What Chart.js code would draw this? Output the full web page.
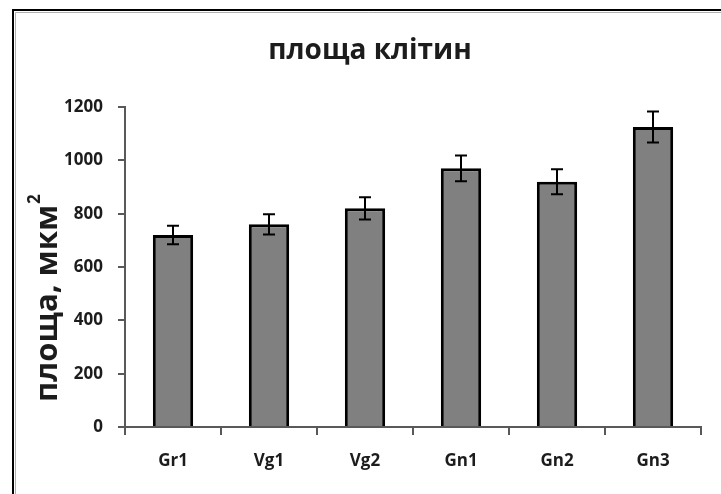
<!DOCTYPE html>
<html>
<head>
<meta charset="utf-8">
<script src="https://cdn.jsdelivr.net/npm/chart.js@4.4.1/dist/chart.umd.min.js"></script>
<style>
  html, body { margin: 0; padding: 0; background: #fff; }
  #wrap { width: 721px; height: 494px; position: relative; }
</style>
</head>
<body>
<div id="wrap"><canvas id="c" width="721" height="494"></canvas></div>
<script>
// Cell area by group: mean and error
const categories = ['Gr1', 'Vg1', 'Vg2', 'Gn1', 'Gn2', 'Gn3'];
const areaMeans  = [720, 760, 820, 970, 920, 1125];
const areaErrors = [35, 38, 42, 48, 47, 58];
const yTicks     = [0, 200, 400, 600, 800, 1000, 1200];

const chartTitle = 'площа клітин';
const yTitle     = 'площа, мкм';
const yTitleSup  = '2';

const FONT = '"Open Sans", "DejaVu Sans", sans-serif';
const TEXT = '#1c1c1c';

// White page with the dark frame around the chart
const framePlugin = {
  id: 'frame',
  beforeDraw(chart) {
    const ctx = chart.ctx;
    ctx.save();
    ctx.fillStyle = '#fff';
    ctx.fillRect(0, 0, chart.width, chart.height);
    ctx.strokeStyle = '#b0b0b0';
    ctx.lineWidth = 1;
    ctx.beginPath();
    ctx.moveTo(15.5, chart.height);
    ctx.lineTo(15.5, 12.5);
    ctx.lineTo(chart.width, 12.5);
    ctx.stroke();
    ctx.strokeStyle = '#000';
    ctx.lineWidth = 2;
    ctx.beginPath();
    ctx.moveTo(13, chart.height);
    ctx.lineTo(13, 10);
    ctx.lineTo(chart.width, 10);
    ctx.stroke();
    ctx.restore();
  }
};

// Error whiskers drawn through the value scale
const errorBarPlugin = {
  id: 'errorBars',
  afterDatasetsDraw(chart) {
    const ctx = chart.ctx;
    const meta = chart.getDatasetMeta(0);
    const y = chart.scales.y;
    ctx.save();
    ctx.strokeStyle = '#000';
    ctx.lineWidth = 2;
    meta.data.forEach((bar, i) => {
      const x = Math.round(bar.x);
      const hi = y.getPixelForValue(areaMeans[i] + areaErrors[i]);
      const lo = y.getPixelForValue(areaMeans[i] - areaErrors[i]);
      ctx.beginPath();
      ctx.moveTo(x, hi); ctx.lineTo(x, lo);
      ctx.moveTo(x - 6, hi); ctx.lineTo(x + 6, hi);
      ctx.moveTo(x - 6, lo); ctx.lineTo(x + 6, lo);
      ctx.stroke();
    });
    ctx.restore();
  }
};

// Chart heading and the vertical axis caption with its superscript
const captionPlugin = {
  id: 'captions',
  afterDraw(chart) {
    const ctx = chart.ctx;
    ctx.save();
    ctx.fillStyle = TEXT;
    ctx.font = 'bold 28px ' + FONT;
    ctx.textAlign = 'center';
    ctx.textBaseline = 'alphabetic';
    ctx.fillText(chartTitle, 370, 59);

    ctx.translate(57, 402);
    ctx.rotate(-Math.PI / 2);
    ctx.textAlign = 'left';
    ctx.font = 'bold 31px ' + FONT;
    ctx.fillText(yTitle, 0, 0);
    const w = ctx.measureText(yTitle).width;
    ctx.font = 'bold 17px ' + FONT;
    ctx.fillText(yTitleSup, w + 1, -17);
    ctx.restore();
  }
};

new Chart(document.getElementById('c'), {
  type: 'bar',
  data: {
    labels: categories,
    datasets: [{
      data: areaMeans,
      backgroundColor: '#808080',
      borderColor: '#000',
      borderWidth: 3,
      borderSkipped: 'start',
      barPercentage: 0.42,
      categoryPercentage: 1.0
    }]
  },
  options: {
    responsive: false,
    devicePixelRatio: 1,
    animation: false,
    layout: { padding: { top: 107, left: 12, right: 20, bottom: 0 } },
    plugins: {
      legend: { display: false },
      title: { display: false },
      tooltip: { enabled: false }
    },
    scales: {
      x: {
        grid: {
          display: true, offset: true, drawOnChartArea: false, drawTicks: true,
          tickLength: 8, color: '#595959', lineWidth: 2
        },
        border: { display: true, color: '#595959', width: 2 },
        ticks: { color: TEXT, font: { family: FONT, size: 17, weight: 'bold' }, padding: 16 },
        afterFit(s) { s.height = 67; }
      },
      y: {
        min: 0,
        max: 1200,
        afterBuildTicks(s) { s.ticks = yTicks.map(v => ({ value: v })); },
        grid: {
          display: true, drawOnChartArea: false, drawTicks: true,
          tickLength: 7, color: '#595959', lineWidth: 2
        },
        border: { display: true, color: '#595959', width: 2 },
        ticks: {
          color: TEXT, font: { family: FONT, size: 17, weight: 'bold' }, padding: 15,
          callback: v => String(v)
        },
        afterFit(s) { s.width = 113; }
      }
    }
  },
  plugins: [framePlugin, errorBarPlugin, captionPlugin]
});
</script>
</body>
</html>
